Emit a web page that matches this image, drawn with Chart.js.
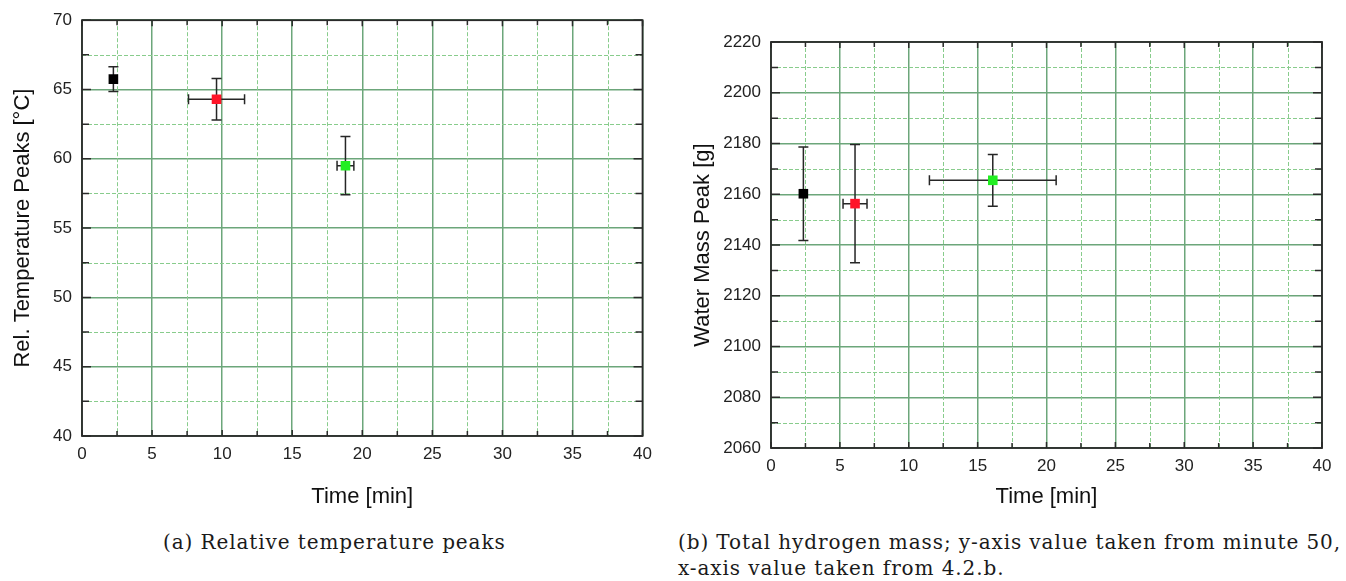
<!DOCTYPE html>
<html>
<head>
<meta charset="utf-8">
<script src="https://cdn.jsdelivr.net/npm/chart.js@4.4.1/dist/chart.umd.min.js"></script>
<style>
  html, body { margin: 0; padding: 0; background: #ffffff; }
  body { width: 1346px; height: 581px; position: relative; overflow: hidden; }
  canvas { position: absolute; top: 0; }
  #chartA { left: 0; }
  #chartB { left: 660px; }
  .cap { position: absolute; font-family: "DejaVu Serif", "Liberation Serif", serif; font-size: 20px;
         letter-spacing: 0.9px; color: #1a1a1a; line-height: 26px; white-space: nowrap; }
  #capA { left: 163px; top: 529px; }
  #capB { left: 678px; top: 529px; }
</style>
</head>
<body>
<canvas id="chartA" width="660" height="510"></canvas>
<canvas id="chartB" width="686" height="510"></canvas>
<div class="cap" id="capA">(a) Relative temperature peaks</div>
<div class="cap" id="capB">(b) Total hydrogen mass; y-axis value taken from minute 50,<br>x-axis value taken from 4.2.b.</div>

<script>
// ---- data ----
const markerColors = ['#000000', '#ff1428', '#22ee22'];

// (a) relative temperature peaks
const tempTime    = [2.24, 9.6, 18.8];
const tempTimeErr = [0.2, 2.0, 0.6];
const tempPeak    = [65.75, 64.3, 59.5];
const tempPeakErr = [0.9, 1.5, 2.1];

// (b) water mass peak
const massTime    = [2.35, 6.1, 16.1];
const massTimeErr = [0, 0.87, 4.6];
const massPeak    = [2160.2, 2156.3, 2165.5];
const massPeakErr = [18.4, 23.3, 10.2];

// tick values
const timeTicks = [0, 5, 10, 15, 20, 25, 30, 35, 40];
const tempTicks = [40, 45, 50, 55, 60, 65, 70];
const massTicks = [2060, 2080, 2100, 2120, 2140, 2160, 2180, 2200, 2220];

// ---- styling ----
const MAJOR_GRID = 'rgb(108,166,122)';
const MINOR_GRID = 'rgb(136,204,140)';
const FRAME = '#2a2a2a';
const LABEL_FONT = { family: '"Liberation Sans", Arial, sans-serif', size: 17 };
const TITLE_FONT = { family: '"Liberation Sans", Arial, sans-serif', size: 22 };

// error bars drawn below the markers
const errorBars = {
  id: 'errorBars',
  beforeDatasetsDraw(chart, args, o) {
    const { ctx } = chart;
    const xs = chart.scales.x, ys = chart.scales.y;
    const cap = 5;
    ctx.save();
    ctx.strokeStyle = '#262626';
    ctx.lineWidth = 1.5;
    ctx.setLineDash([]);
    for (let i = 0; i < o.x.length; i++) {
      const px = xs.getPixelForValue(o.x[i]);
      const py = ys.getPixelForValue(o.y[i]);
      if (o.yErr[i] > 0) {
        const t = ys.getPixelForValue(o.y[i] + o.yErr[i]);
        const b = ys.getPixelForValue(o.y[i] - o.yErr[i]);
        ctx.beginPath();
        ctx.moveTo(px, t); ctx.lineTo(px, b);
        ctx.moveTo(px - cap, t); ctx.lineTo(px + cap, t);
        ctx.moveTo(px - cap, b); ctx.lineTo(px + cap, b);
        ctx.stroke();
      }
      if (o.xErr[i] > 0) {
        const l = xs.getPixelForValue(o.x[i] - o.xErr[i]);
        const r = xs.getPixelForValue(o.x[i] + o.xErr[i]);
        ctx.beginPath();
        ctx.moveTo(l, py); ctx.lineTo(r, py);
        if (r - l > 2 * cap) {
          ctx.moveTo(l, py - cap); ctx.lineTo(l, py + cap);
          ctx.moveTo(r, py - cap); ctx.lineTo(r, py + cap);
        }
        ctx.stroke();
      }
    }
    ctx.restore();
  }
};

// dashed minor grid between major ticks, plus the boxed frame with inward ticks
const frameGrid = {
  id: 'frameGrid',
  beforeDatasetsDraw(chart) {
    const { ctx, chartArea: a } = chart;
    const xs = chart.scales.x, ys = chart.scales.y;
    ctx.save();
    ctx.strokeStyle = MINOR_GRID;
    ctx.lineWidth = 1;
    ctx.setLineDash([4, 2]);
    ctx.beginPath();
    for (let i = 0; i < xs.ticks.length - 1; i++) {
      const p = Math.round(xs.getPixelForValue((xs.ticks[i].value + xs.ticks[i + 1].value) / 2)) + 0.5;
      ctx.moveTo(p, a.top); ctx.lineTo(p, a.bottom);
    }
    for (let i = 0; i < ys.ticks.length - 1; i++) {
      const p = Math.round(ys.getPixelForValue((ys.ticks[i].value + ys.ticks[i + 1].value) / 2)) + 0.5;
      ctx.moveTo(a.left, p); ctx.lineTo(a.right, p);
    }
    ctx.stroke();
    ctx.restore();
  },
  afterDraw(chart) {
    const { ctx, chartArea: a } = chart;
    const xs = chart.scales.x, ys = chart.scales.y;
    ctx.save();
    ctx.setLineDash([]);
    ctx.strokeStyle = FRAME;
    ctx.lineWidth = 1.5;
    ctx.beginPath();
    const tick = (vals, scale, len) => {
      vals.forEach(v => {
        const p = scale.getPixelForValue(v);
        if (scale === xs) {
          ctx.moveTo(p, a.bottom); ctx.lineTo(p, a.bottom - len);
          ctx.moveTo(p, a.top); ctx.lineTo(p, a.top + len);
        } else {
          ctx.moveTo(a.left, p); ctx.lineTo(a.left + len, p);
          ctx.moveTo(a.right, p); ctx.lineTo(a.right - len, p);
        }
      });
    };
    const xv = xs.ticks.map(t => t.value), yv = ys.ticks.map(t => t.value);
    tick(xv, xs, 6);
    tick(yv, ys, 9);
    tick(xv.slice(1).map((v, i) => (v + xv[i]) / 2), xs, 5);
    tick(yv.slice(1).map((v, i) => (v + yv[i]) / 2), ys, 7);
    ctx.stroke();
    ctx.lineWidth = 1.8;
    ctx.strokeRect(a.left, a.top, a.right - a.left, a.bottom - a.top);
    ctx.restore();
  }
};

function makeChart(id, o) {
  const points = o.x.map((x, i) => ({ x: x, y: o.y[i] }));
  return new Chart(document.getElementById(id), {
    type: 'scatter',
    data: {
      datasets: [{
        data: points,
        pointStyle: 'rect',
        pointRadius: 6.8,
        pointBorderWidth: 0,
        backgroundColor: markerColors,
        borderColor: markerColors
      }]
    },
    options: {
      responsive: false,
      animation: false,
      events: [],
      layout: { padding: { top: o.padTop, right: o.padRight, left: 0, bottom: 0 } },
      plugins: {
        legend: { display: false },
        tooltip: { enabled: false },
        errorBars: { x: o.x, xErr: o.xErr, y: o.y, yErr: o.yErr }
      },
      scales: {
        x: {
          type: 'linear',
          min: timeTicks[0],
          max: timeTicks[timeTicks.length - 1],
          afterBuildTicks: s => { s.ticks = timeTicks.map(v => ({ value: v })); },
          afterFit: s => { s.height = o.xAxisHeight; },
          grid: { color: MAJOR_GRID, lineWidth: 1.5, drawTicks: false },
          border: { display: false },
          ticks: { font: LABEL_FONT, color: '#222222', padding: 8, maxRotation: 0,
                   callback: v => String(v) },
          title: { display: true, text: 'Time [min]', font: TITLE_FONT, color: '#111111', padding: 0 }
        },
        y: {
          type: 'linear',
          min: o.yTicks[0],
          max: o.yTicks[o.yTicks.length - 1],
          afterBuildTicks: s => { s.ticks = o.yTicks.map(v => ({ value: v })); },
          afterFit: s => { s.width = o.yAxisWidth; },
          grid: { color: MAJOR_GRID, lineWidth: 1.5, drawTicks: false },
          border: { display: false },
          ticks: { font: LABEL_FONT, color: '#222222', padding: 10,
                   callback: v => String(v) },
          title: { display: true, text: o.yTitle, font: TITLE_FONT, color: '#111111',
                   padding: { top: o.yTitlePad, bottom: 0 } }
        }
      }
    },
    plugins: [frameGrid, errorBars]
  });
}

makeChart('chartA', {
  x: tempTime, xErr: tempTimeErr, y: tempPeak, yErr: tempPeakErr,
  yTicks: tempTicks, yTitle: 'Rel. Temperature Peaks [°C]',
  padTop: 20, padRight: 12, yAxisWidth: 82, xAxisHeight: 74, yTitlePad: 10
});

makeChart('chartB', {
  x: massTime, xErr: massTimeErr, y: massPeak, yErr: massPeakErr,
  yTicks: massTicks, yTitle: 'Water Mass Peak [g]',
  padTop: 42, padRight: 24, yAxisWidth: 111, xAxisHeight: 62, yTitlePad: 30
});
</script>
</body>
</html>
